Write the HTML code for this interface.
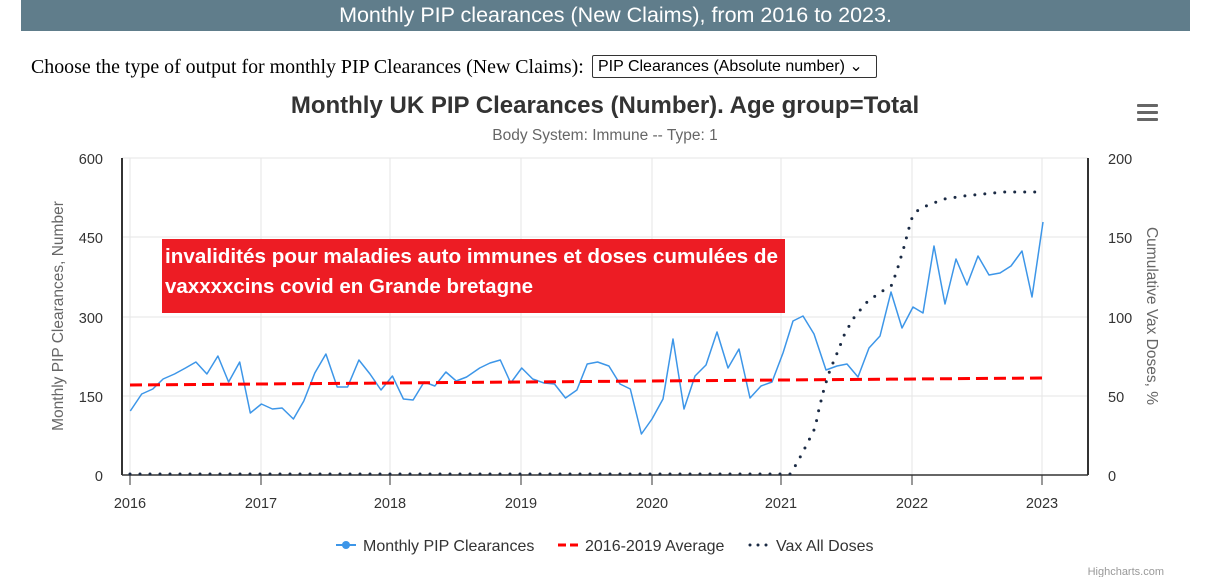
<!DOCTYPE html>
<html><head><meta charset="utf-8"><style>
body{margin:0;width:1207px;height:577px;background:#fff;position:relative;overflow:hidden;font-family:"Liberation Sans",sans-serif}
.bar{position:absolute;left:21px;top:0;width:1169px;height:31px;background:#607d8b;color:#fff;font-size:21.5px;text-align:center;line-height:31px;text-indent:20px}
.choose{position:absolute;left:31px;top:56px;font-family:"Liberation Serif",serif;font-size:19.9px;color:#000}
.sel{position:absolute;left:592px;top:55px;width:285px;height:23px;border:1px solid #333;border-radius:2px;font-size:16px;line-height:22px;padding-left:5px;box-sizing:border-box;color:#000}
</style></head><body>
<div class="bar">Monthly PIP clearances (New Claims), from 2016 to 2023.</div>
<div class="choose">Choose the type of output for monthly PIP Clearances (New Claims):</div>
<div class="sel">PIP Clearances (Absolute number) ⌄</div>
<svg width="1207" height="577" style="position:absolute;left:0;top:0" font-family="Liberation Sans, sans-serif">
<text x="605" y="113" font-size="24" font-weight="bold" fill="#333" text-anchor="middle">Monthly UK PIP Clearances (Number). Age group=Total</text>
<text x="605" y="140" font-size="15.5" fill="#666" text-anchor="middle">Body System: Immune -- Type: 1</text>
<g fill="#666"><rect x="1137" y="104" width="21" height="3" rx="1"/><rect x="1137" y="111" width="21" height="3" rx="1"/><rect x="1137" y="118" width="21" height="3" rx="1"/></g>
<g stroke="#e6e6e6" stroke-width="1">
<line x1="122" y1="158" x2="1088" y2="158"/><line x1="122" y1="237" x2="1088" y2="237"/><line x1="122" y1="317" x2="1088" y2="317"/><line x1="122" y1="396" x2="1088" y2="396"/>
<line x1="130" y1="158" x2="130" y2="475"/><line x1="261" y1="158" x2="261" y2="475"/><line x1="390" y1="158" x2="390" y2="475"/><line x1="521" y1="158" x2="521" y2="475"/><line x1="652" y1="158" x2="652" y2="475"/><line x1="781" y1="158" x2="781" y2="475"/><line x1="912" y1="158" x2="912" y2="475"/><line x1="1042" y1="158" x2="1042" y2="475"/>
</g>
<line x1="122" y1="158" x2="122" y2="475" stroke="#333" stroke-width="2"/>
<line x1="1088" y1="158" x2="1088" y2="475" stroke="#333" stroke-width="2"/>
<line x1="122" y1="475" x2="1088" y2="475" stroke="#333" stroke-width="1.5"/>
<g stroke="#333"><line x1="130" y1="475" x2="130" y2="485"/><line x1="261" y1="475" x2="261" y2="485"/><line x1="390" y1="475" x2="390" y2="485"/><line x1="521" y1="475" x2="521" y2="485"/><line x1="652" y1="475" x2="652" y2="485"/><line x1="781" y1="475" x2="781" y2="485"/><line x1="912" y1="475" x2="912" y2="485"/><line x1="1042" y1="475" x2="1042" y2="485"/></g>
<g font-size="14.5" fill="#333" text-anchor="end"><text x="103" y="164">600</text><text x="103" y="243">450</text><text x="103" y="323">300</text><text x="103" y="402">150</text><text x="103" y="481">0</text></g>
<g font-size="14.5" fill="#333"><text x="1108" y="164">200</text><text x="1108" y="243">150</text><text x="1108" y="323">100</text><text x="1108" y="402">50</text><text x="1108" y="481">0</text></g>
<g font-size="14.5" fill="#333" text-anchor="middle"><text x="130" y="508">2016</text><text x="261" y="508">2017</text><text x="390" y="508">2018</text><text x="521" y="508">2019</text><text x="652" y="508">2020</text><text x="781" y="508">2021</text><text x="912" y="508">2022</text><text x="1042" y="508">2023</text></g>
<text transform="translate(63,316) rotate(-90)" font-size="15.5" fill="#666" text-anchor="middle">Monthly PIP Clearances, Number</text>
<text transform="translate(1147,316) rotate(90)" font-size="15.5" fill="#666" text-anchor="middle">Cumulative Vax Doses, %</text>
<polyline fill="none" stroke="#3d96e8" stroke-width="1.5" stroke-linejoin="round" points="130.3,411 141.7,394 152.8,389 163.1,379 174.5,374 185.5,368 195.9,362 206.9,374 217.9,356 228.6,382 239.7,362 250.3,413 261.4,404 272.4,409 282.1,408 293.4,419 303.8,401 314.8,373 325.9,354 337.2,387 347.6,387 358.9,360 370,374 381,390 392.4,376 403.4,399 413.1,400 424.1,382 434.8,386 445.9,372 456.2,381 466.6,377 479.7,368 490,363 500.3,360 510.7,383 521.7,368 532.7,379 544.1,383 554.5,384 565.5,398 576.9,390 587.2,364 597.6,362 608.9,366 620,384 630.3,389 641.4,434 652,419 663,399 673,339 684,409 695,376 706,365 717,332 728,368 739,349 750,398 761,386 772,382 783,353 793,321 803,316 814,334 826,370 837,366 847,364 858,377 869,348 880,336 891,292 902,328 913,307 923,313 934,246 945,304 956,259 967,285 978,256 989,275 1000,273 1011,266 1022,251 1032,297 1043,222"/>
<line x1="130" y1="385" x2="1043" y2="378" stroke="#ff0000" stroke-width="3" stroke-dasharray="12 6"/>
<polyline fill="none" stroke="#1a2a44" stroke-width="3" stroke-linecap="round" stroke-dasharray="0 10" points="130,474 790,474 792,471 797,463 806,446 815,428 819,409 824,389 830,370 838,351 845,333 855,316 868,301 884,290 892,285 898,267 904,247 909,228 912,218 917,211 926,206 944,199 964,196 984,194 1004,192 1043,192"/>
<rect x="162" y="239" width="623" height="74" fill="#ed1c24"/>
<text x="165" y="263" font-size="20.5" font-weight="bold" fill="#fff" textLength="613" lengthAdjust="spacingAndGlyphs">invalidités pour maladies auto immunes et doses cumulées de</text>
<text x="165" y="293" font-size="20.5" font-weight="bold" fill="#fff">vaxxxxcins covid en Grande bretagne</text>
<g font-size="16" fill="#333">
<line x1="336" y1="545" x2="356" y2="545" stroke="#3d96e8" stroke-width="2"/><circle cx="346" cy="545" r="4" fill="#3d96e8"/>
<text x="363" y="551">Monthly PIP Clearances</text>
<line x1="558" y1="545" x2="578" y2="545" stroke="#f00" stroke-width="3" stroke-dasharray="8 4"/>
<text x="585" y="551">2016-2019 Average</text>
<line x1="750" y1="545" x2="770" y2="545" stroke="#1a2a44" stroke-width="3" stroke-linecap="round" stroke-dasharray="0 8"/>
<text x="776" y="551">Vax All Doses</text>
</g>
<text x="1164" y="575" font-size="11" fill="#999" text-anchor="end">Highcharts.com</text>
</svg>
</body></html>
